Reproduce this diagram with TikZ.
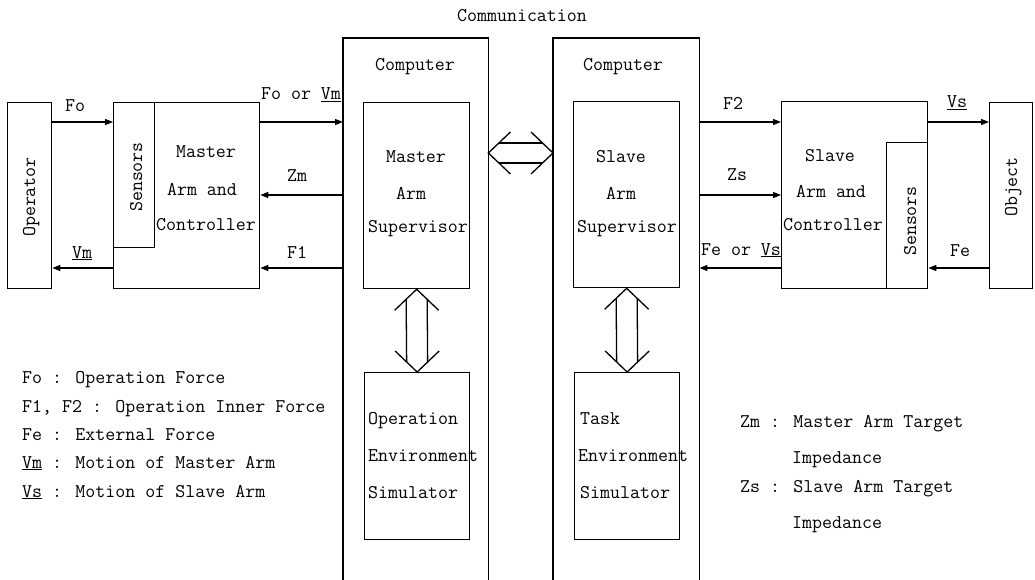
\documentclass[tikz,border=0pt]{standalone}
\usepackage{fontspec}
\usetikzlibrary{arrows.meta,calc}
\begin{document}
\begin{tikzpicture}[x=1pt,y=-1pt,
  box/.style={draw, line width=1.3pt, inner sep=0pt, anchor=north west},
  hid/.style={inner sep=0pt, anchor=north west},
  txt/.style={inner sep=0pt, anchor=base, font=\ttfamily\fontsize{19.4}{20}\selectfont},
  txtw/.style={txt, anchor=base west},
  arr/.style={line width=1.3pt, -{Triangle[length=8pt,width=6pt]}},
  ln/.style={line width=1.3pt}]
\useasboundingbox (0,0) rectangle (1035,580);

% level coordinates
\coordinate (yA) at (0,122);
\coordinate (yB) at (0,195);
\coordinate (yC) at (0,268);
\coordinate (yH) at (0,153);

% boxes
\node[box, minimum width=44pt, minimum height=186pt] (op) at (7,102) {};
\node[box, minimum width=146pt, minimum height=186pt] (mac) at (113,102) {};
\node[box, minimum width=41pt, minimum height=145pt] (lsen) at (113,102) {};
\node[hid, minimum width=145pt, minimum height=560pt] (compL) at (343,38) {};
\node[hid, minimum width=146pt, minimum height=560pt] (compR) at (553,38) {};
\draw[ln] (compL.south west) |- (compL.north east) -- (compL.south east);
\draw[ln] (compR.south west) |- (compR.north east) -- (compR.south east);
\node[box, minimum width=106pt, minimum height=186pt] (msup) at (363,102) {};
\node[box, minimum width=106pt, minimum height=186pt] (ssup) at (573,101) {};
\node[box, minimum width=105pt, minimum height=167pt] (opsim) at (364,372) {};
\node[box, minimum width=105pt, minimum height=167pt] (tsim) at (574,372) {};
\node[box, minimum width=146pt, minimum height=187pt] (sac) at (781,101) {};
\node[box, minimum width=41pt, minimum height=146pt] (rsen) at (886,142) {};
\node[box, minimum width=43pt, minimum height=186pt] (obj) at (989,102) {};

% box texts
\node[txt, rotate=90] (optxt) at (35,197) {Operator};
\node[txt, rotate=90] (lsentxt) at (142,177) {Sensors};
\node[txt] (mac1) at (206,158) {Master};
\node[txt] (mac2) at (202,195) {Arm and};
\node[txt] (mac3) at (206,230) {Controller};
\node[txt] (comm) at (522,22) {Communication};
\node[txt] (cl) at (415,71) {Computer};
\node[txt] (cr) at (623,71) {Computer};
\node[txt] (ms1) at (416,163) {Master};
\node[txt] (ms2) at (411,200) {Arm};
\node[txt] (ms3) at (418,232) {Supervisor};
\node[txt] (ss1) at (621,163) {Slave};
\node[txt] (ss2) at (621,200) {Arm};
\node[txt] (ss3) at (627,232) {Supervisor};
\node[txtw] (os1) at (368,424) {Operation};
\node[txtw] (os2) at (368,461) {Environment};
\node[txtw] (os3) at (368,498) {Simulator};
\node[txtw] (ts1) at (580,424) {Task};
\node[txtw] (ts2) at (578,461) {Environment};
\node[txtw] (ts3) at (580,498) {Simulator};
\node[txt] (sac1) at (830,162) {Slave};
\node[txt] (sac2) at (831,197) {Arm and};
\node[txt] (sac3) at (833,230) {Controller};
\node[txt, rotate=90] (rsentxt) at (916,221) {Sensors};
\node[txt, rotate=90] (objtxt) at (1017,187) {Object};

% signal arrows left
\draw[arr] (op.east |- yA) -- (mac.west |- yA);
\draw[arr] (mac.west |- yC) -- (op.east |- yC);
\draw[arr] (mac.east |- yA) -- (compL.west |- yA);
\draw[arr] (compL.west |- yB) -- (mac.east |- yB);
\draw[arr] (compL.west |- yC) -- (mac.east |- yC);
\node[txt] (lFo) at (75,112) {Fo};
\node[txt] (lVm) at (82,258) {\underline{Vm}};
\node[txt] (lFoVm) at (301,100) {Fo or \underline{Vm}};
\node[txt] (lZm) at (297,182) {Zm};
\node[txt] (lF1) at (297,258) {F1};

% signal arrows right
\draw[arr] (compR.east |- yA) -- (sac.west |- yA);
\draw[arr] (compR.east |- yB) -- (sac.west |- yB);
\draw[arr] (sac.west |- yC) -- (compR.east |- yC);
\draw[arr] (sac.east |- yA) -- (obj.west |- yA);
\draw[arr] (obj.west |- yC) -- (sac.east |- yC);
\node[txt] (lF2) at (733,110) {F2};
\node[txt] (lZs) at (737,180) {Zs};
\node[txt] (lFeVs) at (741,255) {Fe or \underline{Vs}};
\node[txt] (lVs) at (957,108) {\underline{Vs}};
\node[txt] (lFe) at (960,256) {Fe};

% hollow double arrow between computers
\coordinate (hL) at (compL.east |- yH);
\coordinate (hR) at (compR.west |- yH);
\draw[ln] ([shift={(22,-21)}]hL) -- (hL) -- ([shift={(22,21)}]hL);
\draw[ln] ([shift={(-22,-21)}]hR) -- (hR) -- ([shift={(-22,21)}]hR);
\draw[ln] ([shift={(10.5,-10)}]hL) -- ([shift={(-10.5,-10)}]hR);
\draw[ln] ([shift={(10.5,10)}]hL) -- ([shift={(-10.5,10)}]hR);

% hollow double arrows, vertical
\foreach \a/\b in {msup/opsim, ssup/tsim}{
  \draw[ln] ([shift={(-22,21)}]\a.south) -- (\a.south) -- ([shift={(22,21)}]\a.south);
  \draw[ln] ([shift={(-22,-21)}]\b.north) -- (\b.north) -- ([shift={(22,-21)}]\b.north);
  \draw[ln] ([shift={(-10.5,10)}]\a.south) -- ([shift={(-10.5,-10)}]\b.north);
  \draw[ln] ([shift={(10.5,10)}]\a.south) -- ([shift={(10.5,-10)}]\b.north);
}

% legends
\node[txtw] (lg1) at (22,383) {Fo : Operation Force};
\node[txtw] (lg2) at (22,412) {F1, F2 : Operation Inner Force};
\node[txtw] (lg3) at (22,440) {Fe : External Force};
\node[txtw] (lg4) at (22,468) {\underline{Vm} : Motion of Master Arm};
\node[txtw] (lg5) at (22,497) {\underline{Vs} : Motion of Slave Arm};
\node[txtw] (rg1) at (740,427) {Zm : Master Arm Target};
\node[txtw] (rg2) at (792,463) {Impedance};
\node[txtw] (rg3) at (740,492) {Zs : Slave Arm Target};
\node[txtw] (rg4) at (792,528) {Impedance};
\end{tikzpicture}
\end{document}
